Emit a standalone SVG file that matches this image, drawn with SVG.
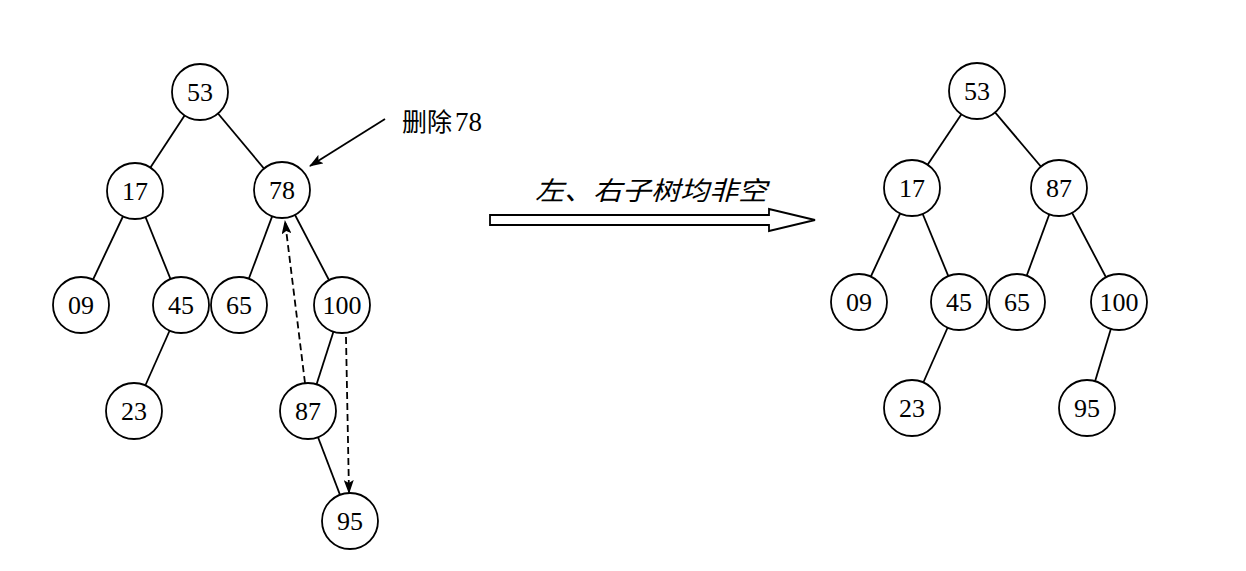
<svg xmlns="http://www.w3.org/2000/svg" width="1246" height="571" viewBox="0 0 1246 571">
<style>
.e{stroke:#000;stroke-width:1.8;fill:none}
.d{stroke:#000;stroke-width:1.8;fill:none;stroke-dasharray:7 4}
.n circle{fill:#fff;stroke:#000;stroke-width:1.8}
.n text{font-family:"Liberation Serif",serif;font-size:26px;text-anchor:middle;fill:#000}
.cjk{font-family:"Noto Sans CJK SC",sans-serif;fill:#000}
.num{font-family:"Liberation Serif",serif;fill:#000}
</style>
<defs>
<marker id="ah" markerWidth="14" markerHeight="10" refX="13" refY="5" orient="auto" markerUnits="userSpaceOnUse">
<path d="M0,0 L14,5 L0,10 L3,5 Z" fill="#000"/>
</marker>
</defs>
<rect width="1246" height="571" fill="#fff"/>
<g id="connectors">
<line class="e" x1="200" y1="92" x2="135" y2="191"/>
<line class="e" x1="200" y1="92" x2="282" y2="190"/>
<line class="e" x1="135" y1="191" x2="81" y2="305"/>
<line class="e" x1="135" y1="191" x2="181" y2="305"/>
<line class="e" x1="181" y1="305" x2="134" y2="411"/>
<line class="e" x1="282" y1="190" x2="239" y2="305"/>
<line class="e" x1="282" y1="190" x2="342" y2="305"/>
<line class="e" x1="342" y1="305" x2="308" y2="411"/>
<line class="e" x1="308" y1="411" x2="350" y2="521"/>
<line class="e" x1="385" y1="119" x2="310" y2="166" marker-end="url(#ah)"/>
<line class="d" x1="305" y1="383" x2="285" y2="221" marker-end="url(#ah)"/>
<line class="d" x1="346" y1="337" x2="349" y2="493" marker-end="url(#ah)"/>
<line class="e" x1="977" y1="91" x2="912" y2="188"/>
<line class="e" x1="977" y1="91" x2="1059" y2="188"/>
<line class="e" x1="912" y1="188" x2="859" y2="302"/>
<line class="e" x1="912" y1="188" x2="959" y2="302"/>
<line class="e" x1="959" y1="302" x2="912" y2="408"/>
<line class="e" x1="1059" y1="188" x2="1017" y2="302"/>
<line class="e" x1="1059" y1="188" x2="1119" y2="302"/>
<line class="e" x1="1119" y1="302" x2="1087" y2="408"/>
<path class="e" d="M490,215 L769,215 L769,209 L815,220 L769,231 L769,225 L490,225 Z"/>
</g>
<g id="label-delete"><text x="402" y="131" font-size="25"><tspan class="cjk">删除</tspan><tspan class="num" font-size="27" dx="3">78</tspan></text></g>
<g id="label-transform"><text class="cjk" x="535" y="200" font-size="26" font-style="italic" textLength="232" lengthAdjust="spacingAndGlyphs">左、右子树均非空</text></g>
<g id="L53" class="n"><circle cx="200" cy="92" r="28"/><text x="200" y="101">53</text></g>
<g id="L17" class="n"><circle cx="135" cy="191" r="28"/><text x="135" y="200">17</text></g>
<g id="L78" class="n"><circle cx="282" cy="190" r="28"/><text x="282" y="199">78</text></g>
<g id="L09" class="n"><circle cx="81" cy="305" r="28"/><text x="81" y="314">09</text></g>
<g id="L45" class="n"><circle cx="181" cy="305" r="28"/><text x="181" y="314">45</text></g>
<g id="L65" class="n"><circle cx="239" cy="305" r="28"/><text x="239" y="314">65</text></g>
<g id="L100" class="n"><circle cx="342" cy="305" r="28"/><text x="342" y="314">100</text></g>
<g id="L23" class="n"><circle cx="134" cy="411" r="28"/><text x="134" y="420">23</text></g>
<g id="L87" class="n"><circle cx="308" cy="411" r="28"/><text x="308" y="420">87</text></g>
<g id="L95" class="n"><circle cx="350" cy="521" r="28"/><text x="350" y="530">95</text></g>
<g id="R53" class="n"><circle cx="977" cy="91" r="28"/><text x="977" y="100">53</text></g>
<g id="R17" class="n"><circle cx="912" cy="188" r="28"/><text x="912" y="197">17</text></g>
<g id="R87" class="n"><circle cx="1059" cy="188" r="28"/><text x="1059" y="197">87</text></g>
<g id="R09" class="n"><circle cx="859" cy="302" r="28"/><text x="859" y="311">09</text></g>
<g id="R45" class="n"><circle cx="959" cy="302" r="28"/><text x="959" y="311">45</text></g>
<g id="R65" class="n"><circle cx="1017" cy="302" r="28"/><text x="1017" y="311">65</text></g>
<g id="R100" class="n"><circle cx="1119" cy="302" r="28"/><text x="1119" y="311">100</text></g>
<g id="R23" class="n"><circle cx="912" cy="408" r="28"/><text x="912" y="417">23</text></g>
<g id="R95" class="n"><circle cx="1087" cy="408" r="28"/><text x="1087" y="417">95</text></g>
</svg>
